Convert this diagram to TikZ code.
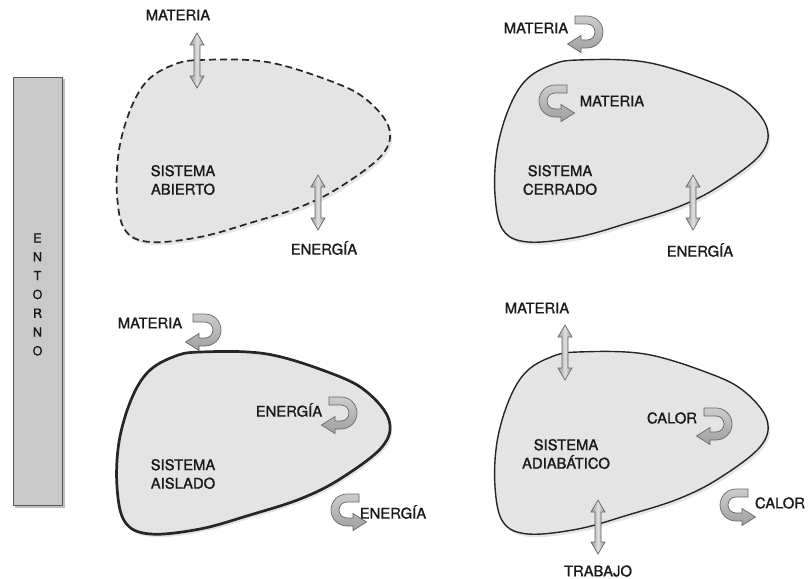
\documentclass[tikz,border=0pt]{standalone}
\usepackage{fontspec}
\setmainfont{TeX Gyre Heros}
\newfontfamily\lblfont[FakeBold=1.3]{TeX Gyre Heros}
\newcommand\blobshape{plot[smooth cycle, tension=0.6] coordinates {(119,150) (131,108) (148,80) (173,65) (200,60) (267,62) (333,82) (367,100) (389,128) (382,155) (340,187) (300,207) (250,223) (200,237) (150,242) (125,230) (117,195)}}
\definecolor{txtc}{HTML}{1A1A1A}
\definecolor{blobfill}{HTML}{E4E4E4}
\definecolor{boxfill}{HTML}{C9C9C9}
\tikzset{
  lbl/.style={font=\lblfont\fontsize{14.8}{17.5}\selectfont, text=txtc, inner sep=0pt, align=center},
  blob/.style={fill=blobfill, draw=black!85},
  shadowc/.style={fill=black, opacity=0.10},
  arrowshape/.style={draw=black!60, line width=0.7pt, left color=gray!80, right color=gray!80, middle color=gray!25},
  uarrowshape/.style={draw=black!60, line width=0.7pt, top color=gray!40, bottom color=gray!75},
  vdarrow/.pic={
    \path[arrowshape] (0,0) -- (7,12) -- (3,12) -- (3,#1-12) -- (7,#1-12) -- (0,#1)
      -- (-7,#1-12) -- (-3,#1-12) -- (-3,12) -- (-7,12) -- cycle;
  },
  uarr/.pic={
    \path[uarrowshape] (-12,-16) -- (0,-16) arc[start angle=-90, end angle=90, radius=16]
      -- (-6,16) -- (-6,20.5) -- (-19.5,12) -- (-6,3.5) -- (-6,8) -- (0,8)
      arc[start angle=90, end angle=-90, radius=8] -- (-12,-8) -- cycle;
  }
}
\begin{document}
\begin{tikzpicture}[x=1pt,y=-1pt]
\useasboundingbox[fill=white] (0,0) rectangle (808,578);

% ENTORNO
\fill[black, opacity=0.25] (15,79) rectangle (65,508);
\node[draw=black!65, line width=1pt, fill=boxfill, minimum width=49pt, minimum height=428pt, inner sep=0pt, anchor=north west] (entorno) at (13,77) {};
\foreach \l [count=\i from 0] in {E,N,T,O,R,N,O}
  \node[font=\lblfont\fontsize{12.5}{13}\selectfont, text=txtc, inner sep=0pt] (ent\i) at (37.5,238+18.8*\i) {\l};

% Blob 1 : abierto
\fill[shadowc] [shift={(2,3)}] \blobshape;
\path[blob, line width=1.7pt, dash pattern=on 7pt off 4pt] \blobshape;
% Blob 2 : cerrado
\begin{scope}[shift={(378,0)}]
\fill[shadowc] [shift={(2,3)}] \blobshape;
\path[blob, line width=1.4pt] \blobshape;
\end{scope}
% Blob 3 : aislado
\begin{scope}[shift={(0,292)}]
\fill[shadowc] [shift={(2,3)}] \blobshape;
\path[blob, line width=2.7pt] \blobshape;
\end{scope}
% Blob 4 : adiabatico
\begin{scope}[shift={(378,292)}]
\fill[shadowc] [shift={(2,3)}] \blobshape;
\path[blob, line width=1.4pt] \blobshape;
\end{scope}

% --- Sistema abierto
\pic (a1m) at (197,33) {vdarrow=55};
\pic (a1e) at (318,175) {vdarrow=55};
\node[lbl] (m1) at (178,15) {MATERIA};
\node[lbl] (e1) at (324,248) {ENERGÍA};
\node[lbl] (s1) at (183,180) {SISTEMA\\[1pt]ABIERTO};

% --- Sistema cerrado
\pic (a2m) at (587,32) {uarr};
\pic[xscale=-1] (a2mi) at (555,101) {uarr};
\pic (a2e) at (693,175) {vdarrow=55};
\node[lbl] (m2) at (536,28) {MATERIA};
\node[lbl] (m2i) at (612,101) {MATERIA};
\node[lbl] (e2) at (700,250) {ENERGÍA};
\node[lbl] (s2) at (560,180) {SISTEMA\\[1pt]CERRADO};

% --- Sistema aislado
\pic (a3m) at (205,330) {uarr};
\pic (a3ei) at (341,413) {uarr};
\pic[xscale=-1] (a3eo) at (347,510) {uarr};
\node[lbl] (m3) at (150,323) {MATERIA};
\node[lbl] (e3i) at (289,410) {ENERGÍA};
\node[lbl] (e3o) at (393,512) {ENERGÍA};
\node[lbl] (s3) at (183,474) {SISTEMA\\[1pt]AISLADO};

% --- Sistema adiabatico
\pic (a4m) at (565,325) {vdarrow=55};
\pic (a4ci) at (716,424) {uarr};
\pic[xscale=-1] (a4co) at (736,505) {uarr};
\pic (a4t) at (598,500) {vdarrow=54};
\node[lbl] (m4) at (537,308) {MATERIA};
\node[lbl] (c4i) at (672,418) {CALOR};
\node[lbl] (c4o) at (780,503) {CALOR};
\node[lbl] (t4) at (598,571) {TRABAJO};
\node[lbl] (s4) at (566,454) {SISTEMA\\[1pt]ADIABÁTICO};
\end{tikzpicture}
\end{document}
